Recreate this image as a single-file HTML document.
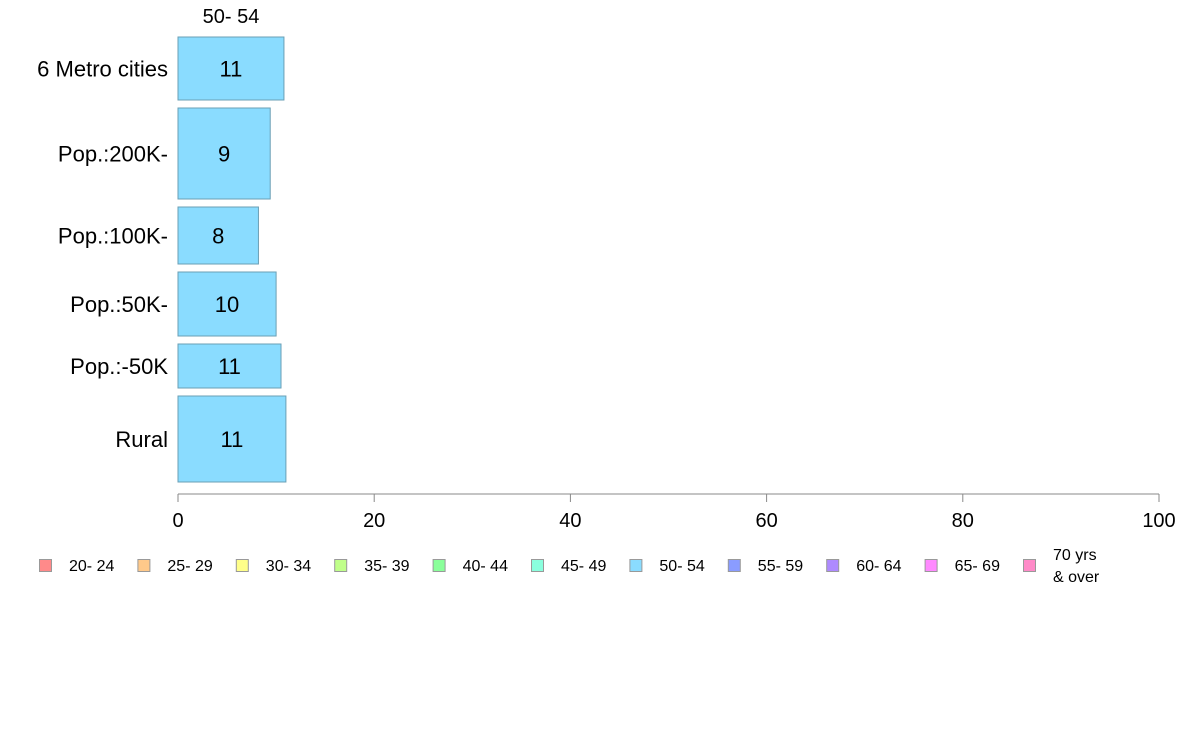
<!DOCTYPE html>
<html><head><meta charset="utf-8"><style>
html,body{margin:0;padding:0;background:#fff;}
svg{display:block;font-family:"Liberation Sans",Arial,sans-serif;}
</style></head><body>
<svg id="chart" width="1188" height="736"></svg>
<script>
const categories = ["6 Metro cities","Pop.:200K-","Pop.:100K-","Pop.:50K-","Pop.:-50K","Rural"];
const values = [10.8, 9.4, 8.2, 10.0, 10.5, 11.0];
const labels = ["11","9","8","10","11","11"];
const weights = [63, 91, 57, 64, 44, 86];
const ticks = [0,20,40,60,80,100];
const legendLabels = ["20- 24","25- 29","30- 34","35- 39","40- 44","45- 49","50- 54","55- 59","60- 64","65- 69","70 yrs|& over"];
const legendColors = ["#ff8a8a","#ffc98a","#ffff8a","#c0ff8a","#8aff9a","#8affde","#8adcff","#8a9cff","#ae8aff","#ff8aff","#ff8ac8"];

const NS="http://www.w3.org/2000/svg";
const svg=document.getElementById('chart');
function el(t,a,p){const e=document.createElementNS(NS,t);for(const k in a)e.setAttribute(k,a[k]);(p||svg).appendChild(e);return e;}
const x0=178,x1=1159,yTop=37,yBot=482,gap=8;
const xs=v=>x0+(x1-x0)*v/100;
const totalW=weights.reduce((a,b)=>a+b,0);
const avail=(yBot-yTop)-gap*(weights.length-1);
let yy=yTop;
const title=el('text',{x:231,y:23,'text-anchor':'middle','font-size':20,fill:'#000'});
title.textContent="50- 54";


categories.forEach((c,i)=>{
  const h=avail*weights[i]/totalW;
  const r=el('rect',{x:x0,y:yy,width:xs(values[i])-x0,height:h,fill:'#8adcff',stroke:'#6a9fb5','stroke-width':1});
  
  
  const t=el('text',{x:(x0+xs(values[i]))/2,y:yy+h/2+8,'text-anchor':'middle','font-size':22,fill:'#000'});
  t.textContent=labels[i];
  
  
  const cl=el('text',{x:168,y:yy+h/2+8,'text-anchor':'end','font-size':22,fill:'#000'});
  cl.textContent=c;
  
  
  yy+=h+gap;
});
const ax=el('line',{x1:x0,y1:494,x2:x1,y2:494,stroke:'#888','stroke-width':1});


ticks.forEach(tv=>{
  const tx=xs(tv);
  const l=el('line',{x1:tx,y1:494,x2:tx,y2:502,stroke:'#888'});
  
  
  const t=el('text',{x:tx,y:527,'text-anchor':'middle','font-size':20,fill:'#000'});
  t.textContent=tv;
  
  
});
legendLabels.forEach((lb,i)=>{
  const lx=39+i*98.4;
  const g=el('g',{});
  
  
  el('rect',{x:lx+0.5,y:559.5,width:12,height:12,fill:legendColors[i],stroke:'#999'},g);
  const parts=lb.split('|');
  if(parts.length===1){
    const t=el('text',{x:lx+30,y:571,'font-size':16,fill:'#000'},g);t.textContent=parts[0];
  } else {
    const t=el('text',{x:lx+30,y:560,'font-size':16,fill:'#000'},g);t.textContent=parts[0];
    const t2=el('text',{x:lx+30,y:582,'font-size':16,fill:'#000'},g);t2.textContent=parts[1];
  }
});
</script>
</body></html>
